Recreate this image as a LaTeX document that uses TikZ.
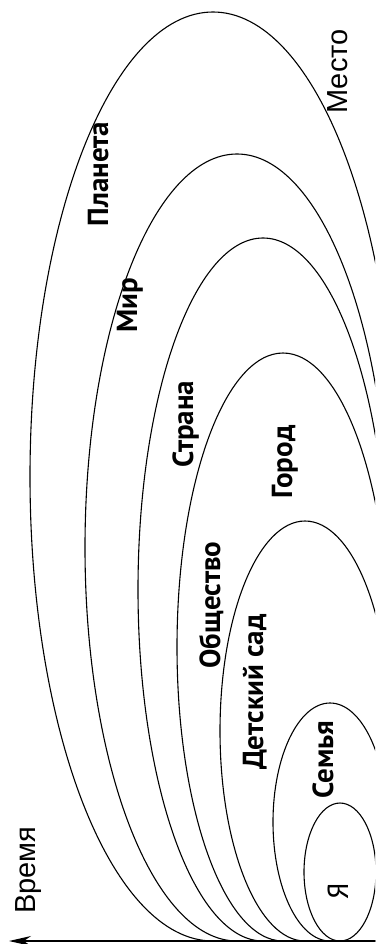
\documentclass[tikz,border=0pt]{standalone}
\usepackage{fontspec}
\setmainfont{PT Sans}
\newfontfamily\lblfont{PT Sans}
\newfontfamily\axfont{Liberation Sans}
\usetikzlibrary{arrows.meta}
\begin{document}
\begin{tikzpicture}[x=1pt,y=-1pt,
  ring/.style={line width=1.1pt},
  lbl/.style={font=\lblfont\bfseries\fontsize{29}{31}\selectfont, rotate=90, inner sep=0pt, anchor=base},
  lightlbl/.style={font=\lblfont\fontsize{29}{31}\selectfont, rotate=90, inner sep=0pt, anchor=base},
  axlbl/.style={font=\axfont\fontsize{29}{31}\selectfont, rotate=90, inner sep=0pt, anchor=base},
  axisline/.style={line width=1.4pt, -{Stealth[length=22pt,width=10pt]}}]
\useasboundingbox (0,0) rectangle (375,944);
\fill[white] (0,0) rectangle (375,944);
\begin{scope}
\clip (0,0) rectangle (375,944);
% open rings: right side, top, left side, then along the time axis
\draw[ring] (396,476.5) arc[start angle=0, end angle=270, x radius=183pt, y radius=464.5pt] -- (380,941);
\draw[ring] (389,547.5) arc[start angle=0, end angle=270, x radius=152pt, y radius=393.5pt] -- (380,941);
\draw[ring] (388,589.5) arc[start angle=0, end angle=270, x radius=125pt, y radius=351.5pt] -- (380,941);
\draw[ring] (389,647) arc[start angle=0, end angle=270, x radius=106pt, y radius=294pt] -- (380,941);
\draw[ring] (390,731) arc[start angle=0, end angle=270, x radius=85pt, y radius=210pt] -- (380,941);
\draw[ring] (387,822) arc[start angle=0, end angle=270, x radius=57pt, y radius=119pt] -- (380,941);
\draw[ring] (340,872) ellipse [x radius=36pt, y radius=69pt];
\coordinate (origin) at (380,941);
\coordinate (tend) at (9,941);
\draw[axisline] (origin) -- (tend);
\end{scope}
\node[lbl] (planeta) at (108,174) {Планета};
\node[lbl] (mir) at (137,305) {Мир};
\node[lbl] (strana) at (193,424) {Страна};
\node[lbl] (gorod) at (292,462) {Город};
\node[lbl] (obsh) at (220,605) {Общество};
\node[lbl] (sad) at (263,692) {Детский сад};
\node[lbl] (semya) at (333,760) {Семья};
\node[lightlbl] (ya) at (348,891) {Я};
\node[axlbl] (vremya) at (35,870) {Время};
\node[axlbl] (mesto) at (347,71.5) {Место};
\end{tikzpicture}
\end{document}
